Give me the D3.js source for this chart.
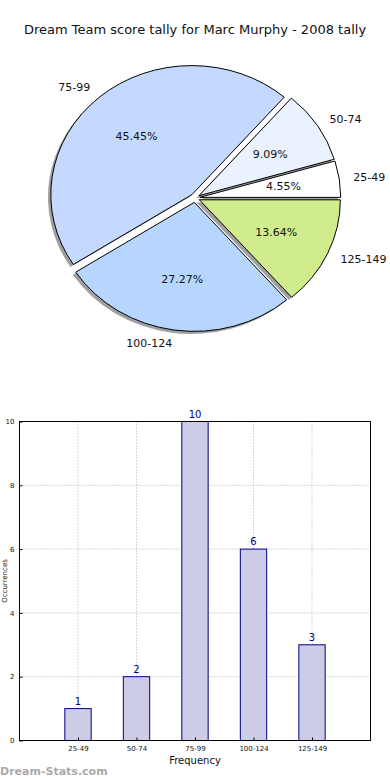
<!DOCTYPE html>
<html><head><meta charset="utf-8">
<script src="https://cdn.jsdelivr.net/npm/d3@7"></script>
<style>body{margin:0;background:#fff}svg{display:block;font-family:"DejaVu Sans",sans-serif}</style>
</head><body><svg id="c" width="390" height="780"></svg>
<script>
const title = "Dream Team score tally for Marc Murphy - 2008 tally";
const categories = ["25-49","50-74","75-99","100-124","125-149"];
const counts = [1,2,10,6,3];
const sliceColors = ["#ffffff","#eaf2ff","#c5d9ff","#b6d6ff","#d0ec8c"];
const yTicks = [0,2,4,6,8,10];
const xLabel = "Frequency";
const yLabel = "Occurrences";
const watermark = "Dream-Stats.com";

const svg = d3.select("#c");
svg.append("text").attr("x",195).attr("y",34).attr("text-anchor","middle")
  .attr("font-size",13).attr("fill","#111").text(title);

// ---- Pie (elliptical, matplotlib style: start at 0 deg, counterclockwise)
const cx = 195, cy = 198, rx = 141, ry = 129, explode = 0.034, shadowOff = 0.02;
const total = d3.sum(counts);
const pie = d3.pie().sort(null).value(d=>d)
  .startAngle(Math.PI/2).endAngle(Math.PI/2 - 2*Math.PI);
const arcs = pie(counts);
const arc = d3.arc().innerRadius(0).outerRadius(1);
const pieG = svg.append("g").attr("transform",`translate(${cx},${cy})`);
function mid(a){ const m = (a.startAngle + a.endAngle)/2; return Math.PI/2 - m; }
const items = arcs.map((a,i)=>{
  const t = mid(a);
  return {a, i, t, ox: explode*Math.cos(t), oy: -explode*Math.sin(t)};
});
items.forEach(d=>{
  pieG.append("path").attr("d",arc(d.a))
    .attr("transform",`scale(${rx},${ry}) translate(${d.ox-shadowOff},${d.oy+shadowOff})`)
    .attr("fill","#808080").attr("fill-opacity",0.75);
});
items.forEach(d=>{
  pieG.append("path").attr("d",arc(d.a))
    .attr("transform",`scale(${rx},${ry}) translate(${d.ox},${d.oy})`)
    .attr("fill",sliceColors[d.i]).attr("stroke","#000").attr("stroke-width",1)
    .attr("vector-effect","non-scaling-stroke");
});
items.forEach(d=>{
  const c = Math.cos(d.t), s = Math.sin(d.t);
  const lx = (d.ox + 1.1*c)*rx, ly = (d.oy - 1.1*s)*ry;
  pieG.append("text").attr("x",lx).attr("y",ly).attr("dy","0.35em")
    .attr("text-anchor", c>0 ? "start" : "end").attr("font-size",11).attr("fill","#111")
    .text(categories[d.i]);
  const px = (d.ox + 0.6*c)*rx, py = (d.oy - 0.6*s)*ry;
  pieG.append("text").attr("x",px).attr("y",py).attr("dy","0.35em")
    .attr("text-anchor","middle").attr("font-size",11).attr("fill","#111")
    .text((counts[d.i]/total*100).toFixed(2)+"%");
});

// ---- Bar chart
const L = 19.5, R = 370.5, T = 421.5, B = 740.5;
const x = d3.scaleLinear().domain([-1, categories.length]).range([L,R]);
const y = d3.scaleLinear().domain([0,10]).range([B,T]);
const bw = 0.45;
const g = svg.append("g");
yTicks.forEach(v=>{
  g.append("line").attr("x1",L).attr("x2",R).attr("y1",y(v)).attr("y2",y(v))
    .attr("stroke","#b0b0b0").attr("stroke-dasharray","1,2").attr("stroke-width",1);
});
categories.forEach((c,i)=>{
  g.append("line").attr("x1",x(i)).attr("x2",x(i)).attr("y1",T).attr("y2",B)
    .attr("stroke","#b0b0b0").attr("stroke-dasharray","1,2").attr("stroke-width",1);
});
counts.forEach((v,i)=>{
  g.append("rect").attr("x",x(i-bw/2)).attr("y",y(v)).attr("width",x(i+bw/2)-x(i-bw/2))
    .attr("height",y(0)-y(v)).attr("fill","#cccce6").attr("stroke","#000080").attr("stroke-width",1);
  g.append("text").attr("x",x(i)).attr("y",y(v)-4).attr("text-anchor","middle")
    .attr("font-size",10).attr("fill","#000080").text(v);
});
g.append("rect").attr("x",L).attr("y",T).attr("width",R-L).attr("height",B-T)
  .attr("fill","none").attr("stroke","#000").attr("stroke-width",1);
const yAx = g.append("g").attr("transform",`translate(${L},0)`)
  .call(d3.axisLeft(y).tickValues(yTicks).tickSize(-3).tickPadding(5).tickFormat(d3.format("d")));
yAx.select(".domain").remove();
yAx.selectAll("text").attr("font-size",7).attr("fill","#111").attr("font-family","DejaVu Sans");
const xAx = g.append("g").attr("transform",`translate(0,${B})`)
  .call(d3.axisBottom(x).tickValues(d3.range(categories.length)).tickSize(-3).tickPadding(6)
    .tickFormat(i=>categories[i]));
xAx.select(".domain").remove();
xAx.selectAll("text").attr("font-size",7).attr("fill","#111").attr("font-family","DejaVu Sans");
svg.append("text").attr("x",(L+R)/2).attr("y",764).attr("text-anchor","middle")
  .attr("font-size",10).attr("fill","#111").text(xLabel);
svg.append("text").attr("transform","translate(7,581) rotate(-90)").attr("text-anchor","middle")
  .attr("font-size",7).attr("fill","#111").text(yLabel);
svg.append("text").attr("x",0).attr("y",775).attr("font-size",11).attr("font-weight","bold")
  .attr("fill","#aaaaaa").text(watermark);
</script></body></html>
